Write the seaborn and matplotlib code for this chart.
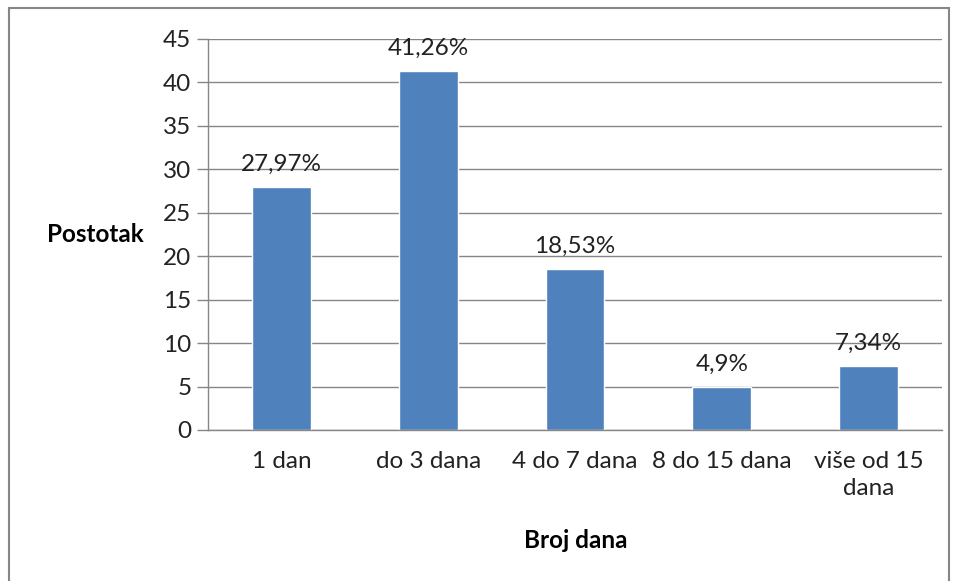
import matplotlib.pyplot as plt
import matplotlib.patches as mpatches
import seaborn as sns
import pandas as pd
import numpy as np

# data
categories = ['1 dan', 'do 3 dana', '4 do 7 dana', '8 do 15 dana', 'više od 15\ndana']
values = [27.97, 41.26, 18.53, 4.9, 7.34]
value_labels = ['27,97%', '41,26%', '18,53%', '4,9%', '7,34%']
y_ticks = [0, 5, 10, 15, 20, 25, 30, 35, 40, 45]

df = pd.DataFrame({'dani': categories, 'postotak': values})

sns.set_theme(style='white')
plt.rcParams['font.family'] = ['Lato', 'DejaVu Sans']

fig = plt.figure(figsize=(9.58, 5.81), dpi=100)
ax = fig.add_axes([208 / 958, 1 - 430 / 581, 734 / 958, 391 / 581])

sns.barplot(data=df, x='dani', y='postotak', color='#4F81BD', width=0.4,
            saturation=1, ax=ax)

ax.set_ylim(0, 45)
ax.set_xlim(-0.5, len(categories) - 0.5)
ax.set_yticks(y_ticks)
ax.yaxis.grid(True, color='#868686', linewidth=1)
ax.set_axisbelow(True)

# Excel-style ticks: labels at centers, tick marks at category boundaries
ax.set_xticks(range(len(categories)))
ax.set_xticklabels(categories, fontsize=17.5, color='#222222', linespacing=1.35)
ax.set_xticks(np.arange(-0.5, len(categories), 1), minor=True)
ax.tick_params(axis='x', which='major', length=0, pad=15)
ax.tick_params(axis='x', which='minor', length=8, width=1, color='#868686', direction='out')
ax.tick_params(axis='y', length=8, width=1, color='#868686', direction='out',
               labelsize=17.5, labelcolor='#222222', pad=4, left=True)

for s in ['top', 'right']:
    ax.spines[s].set_visible(False)
for s in ['left', 'bottom']:
    ax.spines[s].set_color('#868686')
    ax.spines[s].set_linewidth(1)

for i, (v, lab) in enumerate(zip(values, value_labels)):
    ax.annotate(lab, (i, v), xytext=(0, 9), textcoords='offset points',
                ha='center', va='bottom', fontsize=17.5, color='#222222')

ax.set_xlabel('')
ax.set_ylabel('')
fig.text(95 / 958, 1 - 235 / 581, 'Postotak', ha='center', va='center',
         fontsize=17.5, fontweight='bold', color='black')
fig.text(576 / 958, 1 - 540 / 581, 'Broj dana', ha='center', va='center',
         fontsize=17.5, fontweight='bold', color='black')

# outer chart border
fig.patches.append(mpatches.Rectangle((9 / 958, -0.05), 940 / 958, 1 - 8 / 581 + 0.05,
                                      transform=fig.transFigure, fill=False,
                                      edgecolor='#868686', linewidth=1.5))

fig.savefig('out.png', dpi=100)
